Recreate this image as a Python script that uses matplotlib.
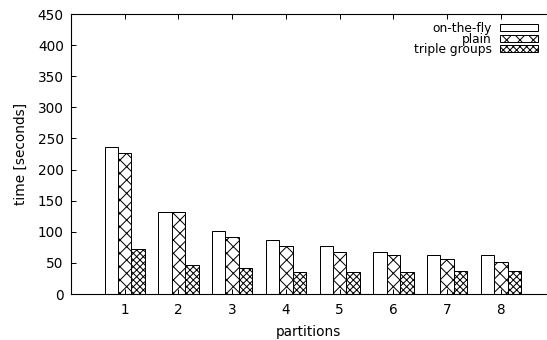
import matplotlib
matplotlib.use('Agg')

import numpy as np
import matplotlib.pyplot as plt

partitions = [1, 2, 3, 4, 5, 6, 7, 8]
on_the_fly = [237, 132, 102, 86, 77, 67, 62, 62]
plain = [227, 132, 91, 77, 67, 62, 57, 52]
triple_groups = [72, 46, 41, 36, 36, 36, 37, 37]

DPI = 80
plt.rcParams['hatch.linewidth'] = 0.9

fig = plt.figure(figsize=(547 / DPI, 340 / DPI), dpi=DPI)
ax = fig.add_axes([71 / 547, 46 / 340, 475 / 547, 280 / 340])

x = np.arange(len(partitions)) + 1
w = 0.25
ax.bar(x - w, on_the_fly, w, color='white', edgecolor='black', linewidth=0.9,
       label='on-the-fly')
ax.bar(x, plain, w, color='white', edgecolor='black', linewidth=0.9,
       hatch='xx', label='plain')
ax.bar(x + w, triple_groups, w, color='white', edgecolor='black', linewidth=0.9,
       hatch='xxxx', label='triple groups')

ax.set_xlim(0, 8.84)
ax.set_ylim(0, 450)
ax.set_xticks(x)
ax.set_xticklabels([str(p) for p in partitions])
ax.set_yticks(np.arange(0, 451, 50))

ax.spines['right'].set_visible(False)
for s in ['left', 'bottom', 'top']:
    ax.spines[s].set_linewidth(1.0)
ax.tick_params(axis='x', direction='in', top=True, bottom=True, length=4.5,
               width=0.9, labelsize=12.3, pad=8)
ax.tick_params(axis='y', direction='in', left=True, right=False, length=4.5,
               width=0.9, labelsize=12.3, pad=6.5)

ax.set_xlabel('partitions', fontsize=12.3, labelpad=7)
ax.set_ylabel('time [seconds]', fontsize=12.3, labelpad=8.5)

# legend: text on the left, sample box on the right, rows packed tight
leg = ax.legend(loc='upper right', bbox_to_anchor=(538 / 547, 1 - 22 / 340),
                bbox_transform=fig.transFigure, frameon=False, markerfirst=False,
                fontsize=11, borderpad=0, borderaxespad=0, labelspacing=-0.2,
                handlelength=3.1, handleheight=0.55, handletextpad=0.7)
for t in leg.get_texts():
    t.set_ha('right')

fig.savefig('out.png', dpi=DPI)
